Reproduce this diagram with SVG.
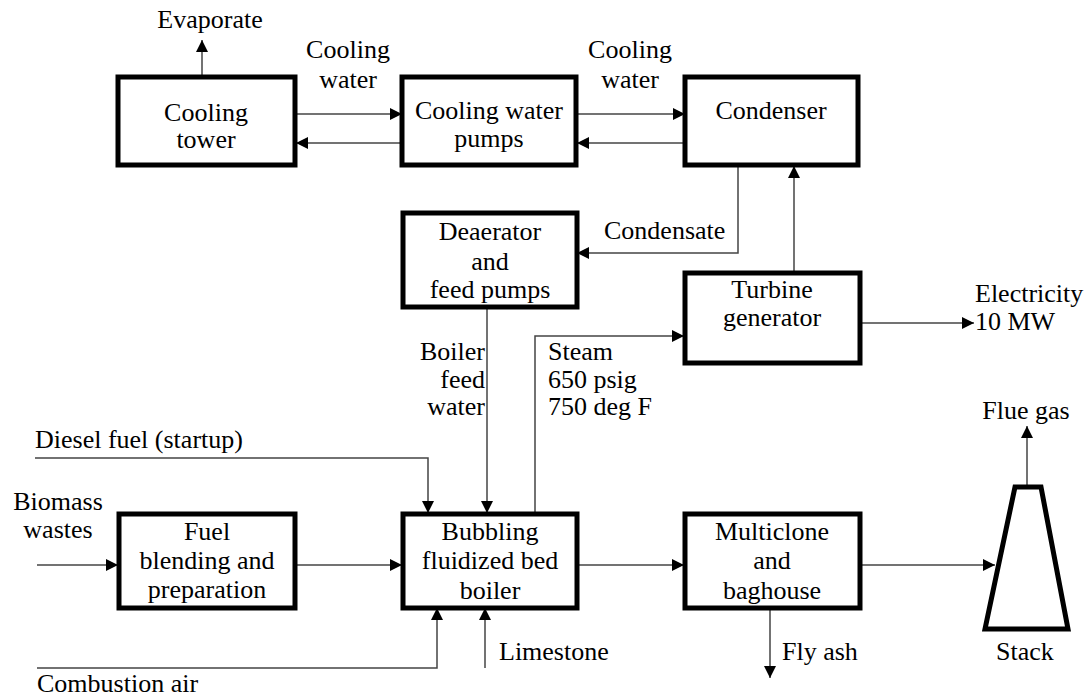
<svg xmlns="http://www.w3.org/2000/svg" width="1089" height="696" viewBox="0 0 1089 696">
<style>
.box{fill:#fff;stroke:#000;stroke-width:5}
.ln{fill:none;stroke:#444;stroke-width:1.5}
.t{font-family:"Times New Roman","Liberation Serif",serif;font-size:26px;fill:#000}
.c{text-anchor:middle}
.r{text-anchor:end}
</style>
<defs>
<marker id="ah" viewBox="0 0 12 12" refX="12" refY="6" markerWidth="12" markerHeight="12" markerUnits="userSpaceOnUse" orient="auto">
<path d="M0,0 L12,6 L0,12 Z" fill="#000"/>
</marker>
</defs>
<rect width="1089" height="696" fill="#fff"/>
<g id="connectors">
<path class="ln" d="M202,77 V40" marker-end="url(#ah)"/>
<path class="ln" d="M296,114 H402" marker-end="url(#ah)"/>
<path class="ln" d="M402,143 H296" marker-end="url(#ah)"/>
<path class="ln" d="M577,114 H685" marker-end="url(#ah)"/>
<path class="ln" d="M685,143 H577" marker-end="url(#ah)"/>
<path class="ln" d="M738,166 V253 H577" marker-end="url(#ah)"/>
<path class="ln" d="M794,272 V166" marker-end="url(#ah)"/>
<path class="ln" d="M861,323 H974" marker-end="url(#ah)"/>
<path class="ln" d="M487,308 V513" marker-end="url(#ah)"/>
<path class="ln" d="M535,513 V336 H684" marker-end="url(#ah)"/>
<path class="ln" d="M35,458 H428 V513" marker-end="url(#ah)"/>
<path class="ln" d="M37,565 H118" marker-end="url(#ah)"/>
<path class="ln" d="M296,565 H402" marker-end="url(#ah)"/>
<path class="ln" d="M37,668 H437 V608" marker-end="url(#ah)"/>
<path class="ln" d="M485,668 V608" marker-end="url(#ah)"/>
<path class="ln" d="M577,565 H684" marker-end="url(#ah)"/>
<path class="ln" d="M770,608 V678" marker-end="url(#ah)"/>
<path class="ln" d="M861,565 H995" marker-end="url(#ah)"/>
<path class="ln" d="M1027,486 V426" marker-end="url(#ah)"/>
</g>
<g id="labels">
<text class="t c" x="210" y="28">Evaporate</text>
<text class="t c" x="348" y="58">Cooling</text>
<text class="t c" x="348" y="88">water</text>
<text class="t c" x="630" y="58">Cooling</text>
<text class="t c" x="630" y="88">water</text>
<text class="t" x="604" y="239">Condensate</text>
<text class="t" x="975" y="302">Electricity</text>
<text class="t" x="975" y="330">10 MW</text>
<text class="t r" x="485" y="360">Boiler</text>
<text class="t r" x="485" y="388">feed</text>
<text class="t r" x="485" y="415">water</text>
<text class="t" x="548" y="360">Steam</text>
<text class="t" x="548" y="388">650 psig</text>
<text class="t" x="548" y="415">750 deg F</text>
<text class="t" x="35" y="448">Diesel fuel (startup)</text>
<text class="t c" x="58" y="510">Biomass</text>
<text class="t c" x="58" y="538">wastes</text>
<text class="t" x="499" y="660">Limestone</text>
<text class="t" x="37" y="692">Combustion air</text>
<text class="t" x="782" y="660">Fly ash</text>
<text class="t c" x="1026" y="419">Flue gas</text>
</g>
<g id="cooling-tower">
<rect class="box" x="118" y="77" width="177" height="88"/>
<text class="t c" x="206" y="121">Cooling</text>
<text class="t c" x="206" y="148">tower</text>
</g>
<g id="cooling-water-pumps">
<rect class="box" x="402" y="77" width="174" height="88"/>
<text class="t c" x="489" y="119">Cooling water</text>
<text class="t c" x="489" y="147">pumps</text>
</g>
<g id="condenser">
<rect class="box" x="685" y="77" width="173" height="88"/>
<text class="t c" x="771" y="119">Condenser</text>
</g>
<g id="deaerator">
<rect class="box" x="403" y="213" width="174" height="94"/>
<text class="t c" x="490" y="240">Deaerator</text>
<text class="t c" x="490" y="270">and</text>
<text class="t c" x="490" y="298">feed pumps</text>
</g>
<g id="turbine-generator">
<rect class="box" x="685" y="273" width="175" height="90"/>
<text class="t c" x="772" y="298">Turbine</text>
<text class="t c" x="772" y="326">generator</text>
</g>
<g id="fuel-blending">
<rect class="box" x="119" y="514" width="176" height="94"/>
<text class="t c" x="207" y="540">Fuel</text>
<text class="t c" x="207" y="569">blending and</text>
<text class="t c" x="207" y="598">preparation</text>
</g>
<g id="boiler">
<rect class="box" x="403" y="514" width="174" height="94"/>
<text class="t c" x="490" y="540">Bubbling</text>
<text class="t c" x="490" y="569">fluidized bed</text>
<text class="t c" x="490" y="599">boiler</text>
</g>
<g id="multiclone">
<rect class="box" x="685" y="514" width="175" height="94"/>
<text class="t c" x="772" y="540">Multiclone</text>
<text class="t c" x="772" y="569">and</text>
<text class="t c" x="772" y="599">baghouse</text>
</g>
<g id="stack">
<polygon points="1015,487 1041,487 1068,629 985,629" fill="#fff" stroke="#000" stroke-width="5"/>
<text class="t c" x="1025" y="660">Stack</text>
</g>
</svg>
